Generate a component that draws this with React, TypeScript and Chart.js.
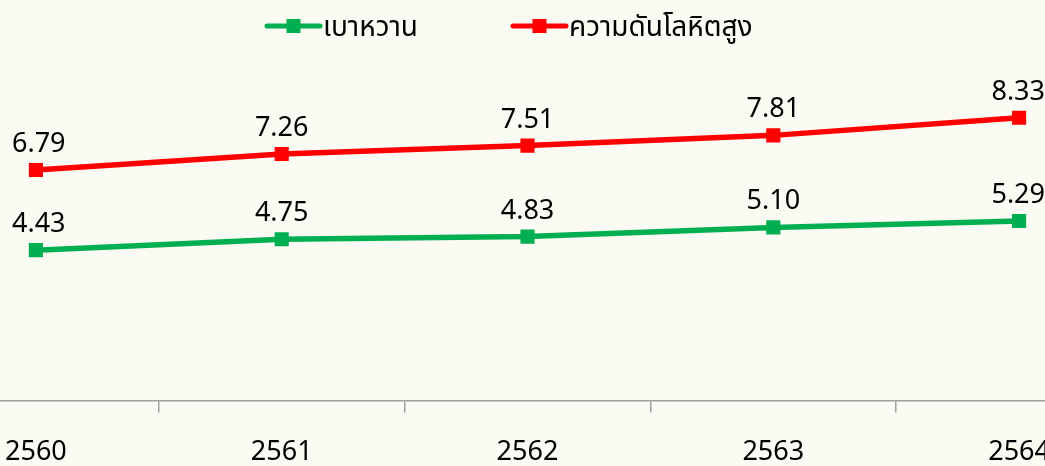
import React, { useEffect, useRef } from "react";
import { Chart, registerables } from "chart.js";

Chart.register(...registerables);

const categories = ["2560", "2561", "2562", "2563", "2564"];
const diabetes = [4.43, 4.75, 4.83, 5.1, 5.29];
const hypertension = [6.79, 7.26, 7.51, 7.81, 8.33];
const seriesNames = ["เบาหวาน", "ความดันโลหิตสูง"];
const seriesColors = ["#00B050", "#FF0000"];

const FONT = '"Noto Sans", "Noto Sans Thai", Tahoma, "DejaVu Sans", sans-serif';
const BG = "#FCFBF3";
const CANVAS_LEFT = -87;
const CANVAS_W = 1229;
const CANVAS_H = 493;
const LEGEND_X = [267, 513];
const VIEW_MIN_X = 12;
const VIEW_MAX_X = 1045;

const labelPlugin = {
  id: "valueLabels",
  afterDatasetsDraw(chart: any) {
    const ctx = chart.ctx;
    ctx.save();
    ctx.font = `27px ${FONT}`;
    ctx.fillStyle = "#000";
    ctx.textAlign = "center";
    ctx.textBaseline = "alphabetic";
    const lo = VIEW_MIN_X - CANVAS_LEFT;
    const hi = VIEW_MAX_X - CANVAS_LEFT;
    chart.data.datasets.forEach((ds: any, i: number) => {
      const meta = chart.getDatasetMeta(i);
      meta.data.forEach((pt: any, j: number) => {
        const txt = Number(ds.data[j]).toFixed(2);
        const w = ctx.measureText(txt).width;
        const x = Math.min(Math.max(pt.x, lo + w / 2), hi - w / 2);
        ctx.fillText(txt, x, pt.y - 18);
      });
    });
    ctx.restore();
  },
};

const legendPlugin = {
  id: "lineLegend",
  afterDraw(chart: any) {
    const ctx = chart.ctx;
    ctx.save();
    ctx.font = `28px ${FONT}`;
    ctx.textBaseline = "middle";
    ctx.textAlign = "left";
    const y = 26;
    chart.data.datasets.forEach((ds: any, i: number) => {
      const x = LEGEND_X[i] - CANVAS_LEFT;
      const color = ds.borderColor;
      ctx.strokeStyle = color;
      ctx.lineWidth = 5;
      ctx.lineCap = "round";
      ctx.beginPath();
      ctx.moveTo(x, y);
      ctx.lineTo(x + 53, y);
      ctx.stroke();
      ctx.fillStyle = color;
      ctx.fillRect(x + 26.5 - 7, y - 7, 14, 14);
      ctx.fillStyle = "#000";
      ctx.fillText(ds.label, x + 56, y + 2);
    });
    ctx.restore();
  },
};

export default function App() {
  const ref = useRef<HTMLCanvasElement | null>(null);
  useEffect(() => {
    if (!ref.current) return;
    const mk = (data: number[], i: number) => ({
      label: seriesNames[i],
      data,
      borderColor: seriesColors[i],
      backgroundColor: seriesColors[i],
      borderWidth: 5.5,
      pointStyle: "rect",
      pointRadius: 10,
      pointBorderWidth: 0,
      pointHoverRadius: 10,
      tension: 0,
    });
    const chart = new Chart(ref.current, {
      type: "line",
      data: {
        labels: categories,
        datasets: [mk(diabetes, 0), mk(hypertension, 1)],
      },
      options: {
        responsive: false,
        animation: false,
        layout: { autoPadding: false, padding: { top: 61, left: 0, right: 0, bottom: 0 } },
        plugins: { legend: { display: false }, tooltip: { enabled: false } },
        scales: {
          x: {
            offset: true,
            grid: {
              offset: true,
              drawOnChartArea: false,
              drawTicks: true,
              tickLength: 12,
              color: "#A0A0A0",
              lineWidth: 1.5,
            },
            border: { display: true, color: "#A0A0A0", width: 1.5 },
            ticks: {
              padding: 24,
              color: "#000",
              font: { family: FONT, size: 27 },
              maxRotation: 0,
              autoSkip: false,
            },
          },
          y: { display: false, min: 0, max: 10 },
        },
      },
      plugins: [labelPlugin, legendPlugin],
    });
    return () => chart.destroy();
  }, []);
  return (
    <div
      style={{
        position: "fixed",
        left: 0,
        top: 0,
        width: 1045,
        height: 466,
        overflow: "hidden",
        background: BG,
      }}
    >
      <canvas
        ref={ref}
        width={CANVAS_W}
        height={CANVAS_H}
        style={{ position: "absolute", left: CANVAS_LEFT, top: 0, width: CANVAS_W, height: CANVAS_H }}
      />
    </div>
  );
}
